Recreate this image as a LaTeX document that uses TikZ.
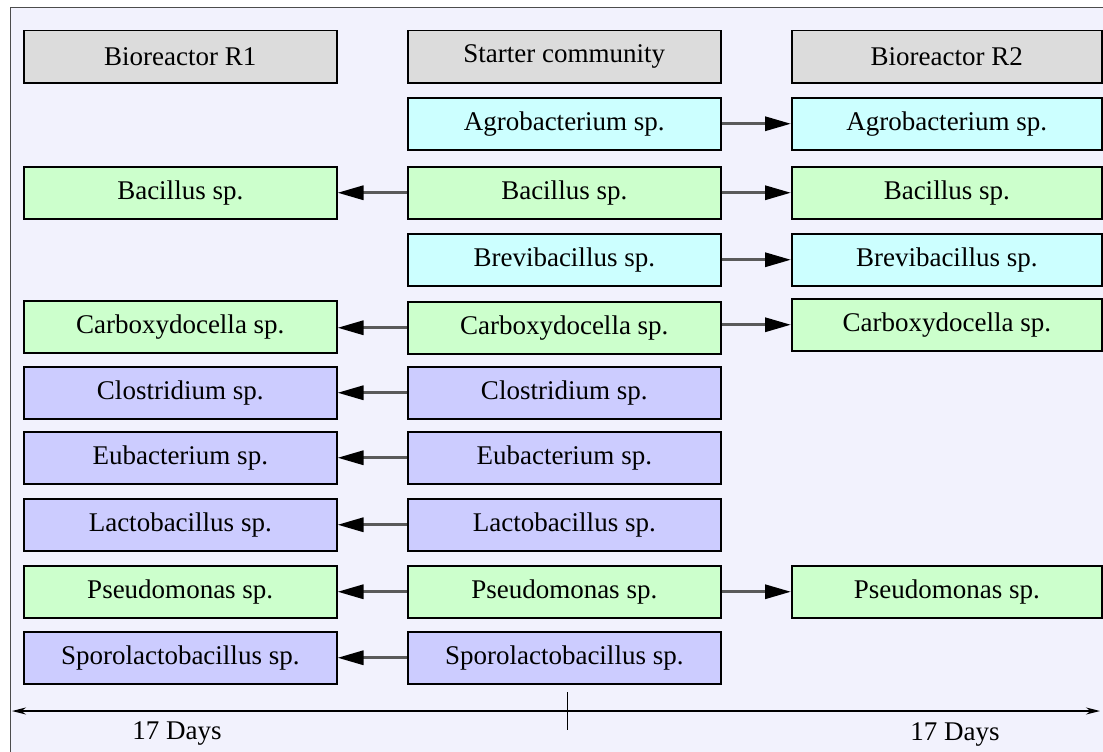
\documentclass[tikz,border=0pt]{standalone}
\usepackage{fontspec}
\setmainfont{Liberation Serif}
\usetikzlibrary{arrows.meta}
\definecolor{panelbg}{HTML}{F2F2FD}
\definecolor{headfill}{HTML}{DCDCDC}
\definecolor{greenfill}{HTML}{CCFFCC}
\definecolor{cyanfill}{HTML}{CCFFFF}
\definecolor{violetfill}{HTML}{CCCCFF}
\definecolor{linkgray}{HTML}{5A5A5A}
\tikzset{
  taxon/.style={draw=black, line width=1.5pt, minimum width=313pt, minimum height=52pt,
    inner sep=0pt, font=\fontsize{27}{30}\selectfont, anchor=north west},
  head/.style={taxon, fill=headfill},
  green/.style={taxon, fill=greenfill},
  cyan/.style={taxon, fill=cyanfill},
  violet/.style={taxon, fill=violetfill},
  link/.style={draw=linkgray, line width=3.2pt,
    -{Triangle[length=26pt,width=14pt,color=black]}},
  days/.style={font=\fontsize{27}{30}\selectfont, anchor=north}
}
\begin{document}
\begin{tikzpicture}[x=1pt, y=-1pt]
\useasboundingbox (0,0) rectangle (1103,752);
% panel
\draw[fill=panelbg, draw=black!70, line width=1pt] (10,8) rectangle (1120,770);
% header row
\node[head] (h1) at (23,30) {Bioreactor R1};
\node[head] (h2) at (407,30) {Starter community};
\node[head, minimum width=310pt] (h3) at (791,30) {Bioreactor R2};
% starter community
\node[cyan]   (m1) at (407,97)  {Agrobacterium sp.};
\node[green]  (m2) at (407,166) {Bacillus sp.};
\node[cyan]   (m3) at (407,233) {Brevibacillus sp.};
\node[green]  (m4) at (407,301) {Carboxydocella sp.};
\node[violet] (m5) at (407,366) {Clostridium sp.};
\node[violet] (m6) at (407,431) {Eubacterium sp.};
\node[violet] (m7) at (407,498) {Lactobacillus sp.};
\node[green]  (m8) at (407,565) {Pseudomonas sp.};
\node[violet] (m9) at (407,631) {Sporolactobacillus sp.};
% bioreactor R1
\node[green]  (l2) at (23,166) {Bacillus sp.};
\node[green]  (l4) at (23,300) {Carboxydocella sp.};
\node[violet] (l5) at (23,366) {Clostridium sp.};
\node[violet] (l6) at (23,431) {Eubacterium sp.};
\node[violet] (l7) at (23,498) {Lactobacillus sp.};
\node[green]  (l8) at (23,565) {Pseudomonas sp.};
\node[violet] (l9) at (23,631) {Sporolactobacillus sp.};
% bioreactor R2
\node[cyan, minimum width=310pt]  (r1) at (791,97)  {Agrobacterium sp.};
\node[green, minimum width=310pt] (r2) at (791,166) {Bacillus sp.};
\node[cyan, minimum width=310pt]  (r3) at (791,233) {Brevibacillus sp.};
\node[green, minimum width=310pt] (r4) at (791,298) {Carboxydocella sp.};
\node[green, minimum width=310pt] (r8) at (791,565) {Pseudomonas sp.};
% transfers to R1
\foreach \i in {2,5,6,7,8,9}
  \draw[link] (m\i.west) -- (l\i.east);
\draw[link] (m4.west) -- (l4.east |- m4.west);
% transfers to R2
\foreach \i in {1,2,3,8}
  \draw[link] (m\i.east) -- (r\i.west);
\draw[link] (m4.east |- r4.west) -- (r4.west);
% time axis
\coordinate (tl) at (12,711);
\coordinate (tr) at (1100,711);
\coordinate (tt) at (567,692);
\coordinate (tb) at (567,730);
\draw[line width=1.5pt, {Stealth[length=14pt,width=7pt]}-{Stealth[length=14pt,width=7pt]}] (tl) -- (tr);
\draw[line width=1pt] (tt) -- (tb);
\node[days] (d1) at (177,718) {17 Days};
\node[days] (d2) at (955,719) {17 Days};
\end{tikzpicture}
\end{document}
